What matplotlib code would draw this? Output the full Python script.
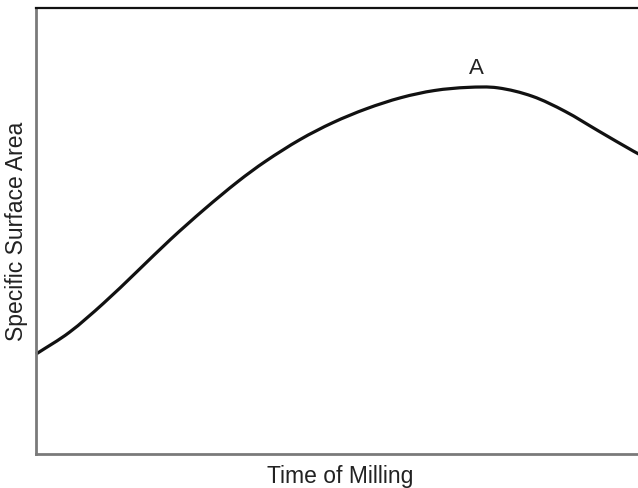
import numpy as np
import matplotlib
matplotlib.use("Agg")
import matplotlib.pyplot as plt
from matplotlib.path import Path
from matplotlib.patches import PathPatch

plt.rcParams['font.family'] = ['Liberation Sans', 'DejaVu Sans']

# Specific surface area versus milling time (arbitrary units)
time_of_milling = [0.0, 5.5, 11.1, 16.6, 22.1, 27.7, 33.2, 37.7, 43.4, 48.8,
                   54.3, 60.0, 65.5, 71.0, 75.9, 81.6, 87.0, 92.5, 98.2, 100.0]
surface_area = [22.4, 27.3, 33.8, 40.9, 48.1, 54.9, 61.1, 65.6, 70.5, 74.3,
                77.4, 79.9, 81.5, 82.2, 82.1, 80.2, 76.8, 72.4, 67.9, 66.6]
peak_label = "A"
peak_time = 72.4
peak_label_height = 86.5

fig = plt.figure(figsize=(6.38, 4.88), dpi=100)
ax = fig.add_axes([36 / 638, 34 / 488, 1 - 36 / 638 + 0.01, 446 / 488])
ax.set_xlim(0, 100)
ax.set_ylim(0, 100)


def smooth_path(xs, ys):
    """Cubic Hermite curve through the points, written as Bezier segments."""
    x = np.asarray(xs, float)
    y = np.asarray(ys, float)
    n = len(x)
    m = np.empty(n)
    m[1:-1] = (y[2:] - y[:-2]) / (x[2:] - x[:-2])
    m[0] = (y[1] - y[0]) / (x[1] - x[0])
    m[-1] = (y[-1] - y[-2]) / (x[-1] - x[-2])
    verts = [(x[0], y[0])]
    codes = [Path.MOVETO]
    for i in range(n - 1):
        h = x[i + 1] - x[i]
        verts += [(x[i] + h / 3, y[i] + m[i] * h / 3),
                  (x[i + 1] - h / 3, y[i + 1] - m[i + 1] * h / 3),
                  (x[i + 1], y[i + 1])]
        codes += [Path.CURVE4] * 3
    return Path(verts, codes)


ax.add_patch(PathPatch(smooth_path(time_of_milling, surface_area),
                       facecolor='none', edgecolor='#111111', lw=2.3,
                       clip_on=False))

ax.text(peak_time, peak_label_height, peak_label, ha='center', va='center',
        fontsize=16, color='#222222')

ax.set_xticks([])
ax.set_yticks([])
ax.spines['right'].set_visible(False)
ax.spines['top'].set_color('#111111')
ax.spines['top'].set_linewidth(1.6)
for side in ('left', 'bottom'):
    ax.spines[side].set_color('#7a7a7a')
    ax.spines[side].set_linewidth(2.0)

ax.set_xlabel("Time of Milling", fontsize=16.5, color='#222222', labelpad=8)
ax.set_ylabel("Specific Surface Area", fontsize=16.5, color='#222222', labelpad=6)

fig.savefig("out.png", dpi=100, facecolor='white')
